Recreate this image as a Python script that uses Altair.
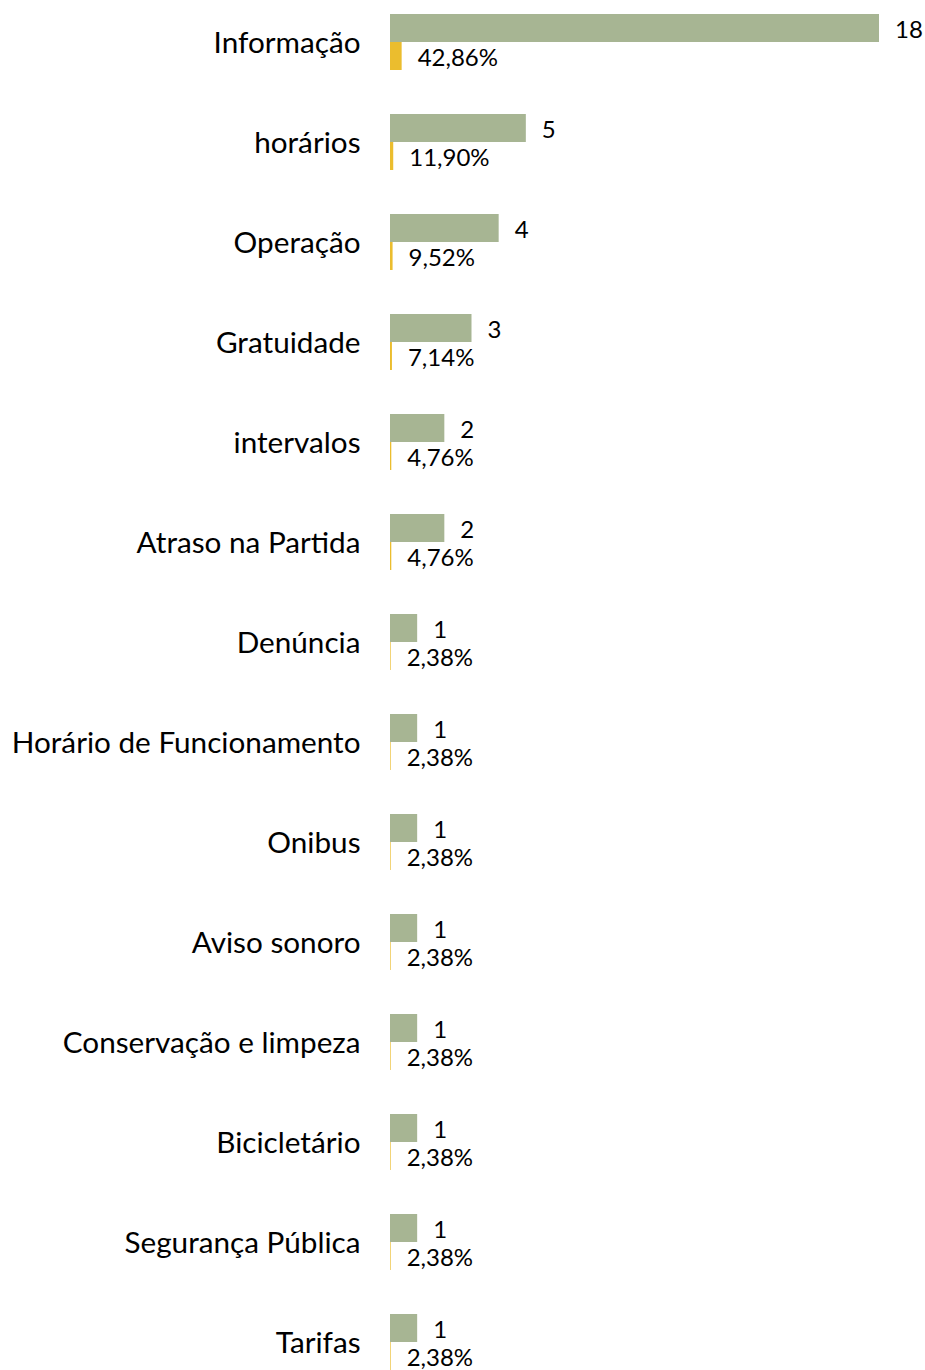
import altair as alt
import pandas as pd

categories = ["Informação", "horários", "Operação", "Gratuidade", "intervalos",
              "Atraso na Partida", "Denúncia", "Horário de Funcionamento", "Onibus",
              "Aviso sonoro", "Conservação e limpeza", "Bicicletário",
              "Segurança Pública", "Tarifas"]
counts = [18, 5, 4, 3, 2, 2, 1, 1, 1, 1, 1, 1, 1, 1]
percents = [42.86, 11.90, 9.52, 7.14, 4.76, 4.76, 2.38, 2.38, 2.38, 2.38, 2.38, 2.38, 2.38, 2.38]

rows = []
for c, n, p in zip(categories, counts, percents):
    rows.append({"cat": c, "series": "a_count", "value": n, "label": str(n)})
    rows.append({"cat": c, "series": "b_pct", "value": p / 100.0,
                 "label": f"{p:.2f}".replace(".", ",") + "%"})
df = pd.DataFrame(rows)

FONT = "Lato"

y = alt.Y("cat:N", sort=categories, title=None,
          scale=alt.Scale(paddingInner=0.44, paddingOuter=0.14),
          axis=alt.Axis(domain=False, ticks=False, labelPadding=30, labelOffset=2,
                        labelFontSize=29.7, labelFont=FONT, labelColor="#000000",
                        labelLimit=400))
yoff = alt.YOffset("series:N", scale=alt.Scale(paddingInner=0, paddingOuter=0))
x = alt.X("value:Q", title=None, scale=alt.Scale(domain=[0, 18], nice=False, zero=True),
          axis=None)

base = alt.Chart(df)
bars = base.mark_bar(size=28).encode(
    y=y, yOffset=yoff, x=x,
    color=alt.Color("series:N", legend=None,
                    scale=alt.Scale(domain=["a_count", "b_pct"],
                                    range=["#A7B593", "#EBBD2E"])),
)
text = base.mark_text(align="left", baseline="middle", dx=16, dy=3,
                      fontSize=24, font=FONT, color="#000000").encode(
    y=y, yOffset=yoff, x=x, text="label:N")

chart = (bars + text).properties(
    width=489, height=1384,
    autosize=alt.AutoSizeParams(type="none"),
    padding={"left": 390, "top": 0, "right": 46, "bottom": 0},
).configure(background="#ffffff").configure_view(strokeWidth=0, stroke=None)

chart.save("out.html", embed_options={"renderer": "svg", "actions": False})
